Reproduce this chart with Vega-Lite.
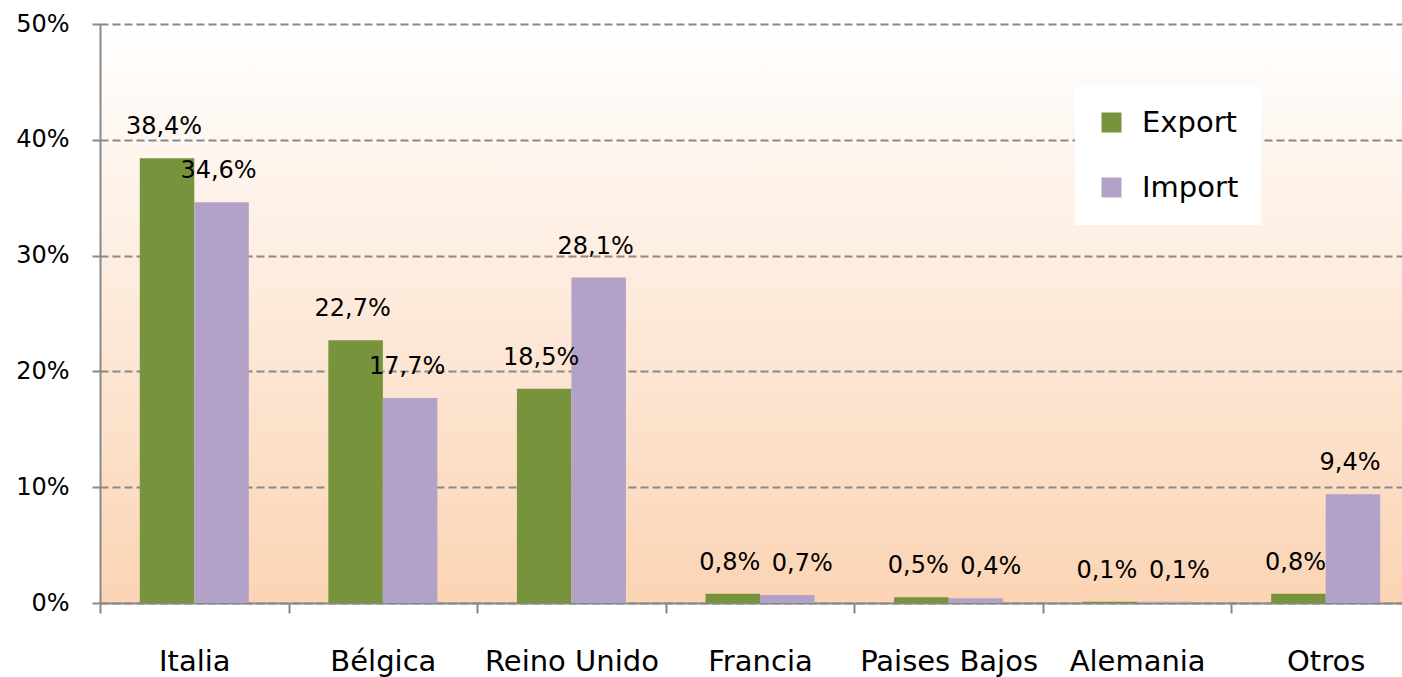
{
  "$schema": "https://vega.github.io/schema/vega-lite/v6.json",
  "width": 1302,
  "height": 579,
  "autosize": {"type": "none"},
  "padding": {"left": 100, "top": 24, "right": 0, "bottom": 74},
  "background": "white",
  "config": {
    "locale": {"number": {"decimal": ",", "thousands": ".", "grouping": [3], "currency": ["", " €"]}},
    "font": "DejaVu Sans",
    "view": {
      "stroke": null,
      "fill": {"gradient": "linear", "x1": 0, "y1": 0, "x2": 0, "y2": 1,
        "stops": [{"offset": 0, "color": "#ffffff"}, {"offset": 1, "color": "#fbd4b4"}]}
    }
  },
  "data": {
    "values": [
      {"pais": "Italia", "serie": "Export", "valor": 0.384},
      {"pais": "Italia", "serie": "Import", "valor": 0.346},
      {"pais": "Bélgica", "serie": "Export", "valor": 0.227},
      {"pais": "Bélgica", "serie": "Import", "valor": 0.177},
      {"pais": "Reino Unido", "serie": "Export", "valor": 0.185},
      {"pais": "Reino Unido", "serie": "Import", "valor": 0.281},
      {"pais": "Francia", "serie": "Export", "valor": 0.008},
      {"pais": "Francia", "serie": "Import", "valor": 0.007},
      {"pais": "Paises Bajos", "serie": "Export", "valor": 0.005},
      {"pais": "Paises Bajos", "serie": "Import", "valor": 0.004},
      {"pais": "Alemania", "serie": "Export", "valor": 0.001},
      {"pais": "Alemania", "serie": "Import", "valor": 0.001},
      {"pais": "Otros", "serie": "Export", "valor": 0.008},
      {"pais": "Otros", "serie": "Import", "valor": 0.094}
    ]
  },
  "encoding": {
    "x": {
      "field": "pais", "type": "nominal", "sort": null,
      "scale": {"range": [0, 1320], "paddingInner": 0, "paddingOuter": 0},
      "axis": {
        "title": null, "labelAngle": 0, "labelFontSize": 29, "labelColor": "#000000",
        "labelPadding": 34, "labelLimit": 300, "tickBand": "extent", "tickSize": 10, "tickColor": "#888888",
        "tickWidth": 2, "domainColor": "#888888", "domainWidth": 2, "grid": false
      }
    },
    "xOffset": {
      "field": "serie", "type": "nominal", "sort": ["Export", "Import"],
      "scale": {"paddingInner": 0, "paddingOuter": 0.73}
    },
    "y": {
      "field": "valor", "type": "quantitative",
      "scale": {"domain": [0, 0.5], "nice": false},
      "axis": {
        "title": null, "format": ".0%", "values": [0, 0.1, 0.2, 0.3, 0.4, 0.5],
        "labelFontSize": 24, "labelColor": "#000000", "labelPadding": 23,
        "tickSize": 8, "tickColor": "#888888", "tickWidth": 2,
        "domainColor": "#888888", "domainWidth": 2,
        "grid": true, "gridColor": "#888888", "gridDash": [8, 4], "gridWidth": 2
      }
    }
  },
  "layer": [
    {
      "mark": {"type": "bar"},
      "encoding": {
        "color": {
          "field": "serie", "type": "nominal",
          "scale": {"domain": ["Export", "Import"], "range": ["#77933c", "#b3a2c7"]},
          "legend": {
            "title": null, "orient": "none", "legendX": 975, "legendY": 62,
            "fillColor": "#ffffff", "padding": 22, "symbolType": "square",
            "symbolSize": 400, "symbolStrokeWidth": 0, "labelFontSize": 29,
            "labelColor": "#000000", "labelOffset": 16, "rowPadding": 35
          }
        }
      }
    },
    {
      "transform": [{"filter": "datum.serie === 'Export'"}],
      "mark": {"type": "text", "baseline": "alphabetic", "dy": -24, "dx": -3, "fontSize": 24, "color": "#000000"},
      "encoding": {
        "text": {"field": "valor", "type": "quantitative", "format": ".1%"}
      }
    },
    {
      "transform": [{"filter": "datum.serie === 'Import' && datum.valor >= 0.01"}],
      "mark": {"type": "text", "baseline": "alphabetic", "dy": -24, "dx": -3, "fontSize": 24, "color": "#000000"},
      "encoding": {
        "text": {"field": "valor", "type": "quantitative", "format": ".1%"}
      }
    },
    {
      "transform": [{"filter": "datum.serie === 'Import' && datum.valor < 0.01"}],
      "mark": {"type": "text", "baseline": "alphabetic", "dy": -24, "dx": 15, "fontSize": 24, "color": "#000000"},
      "encoding": {
        "text": {"field": "valor", "type": "quantitative", "format": ".1%"}
      }
    }
  ]
}
